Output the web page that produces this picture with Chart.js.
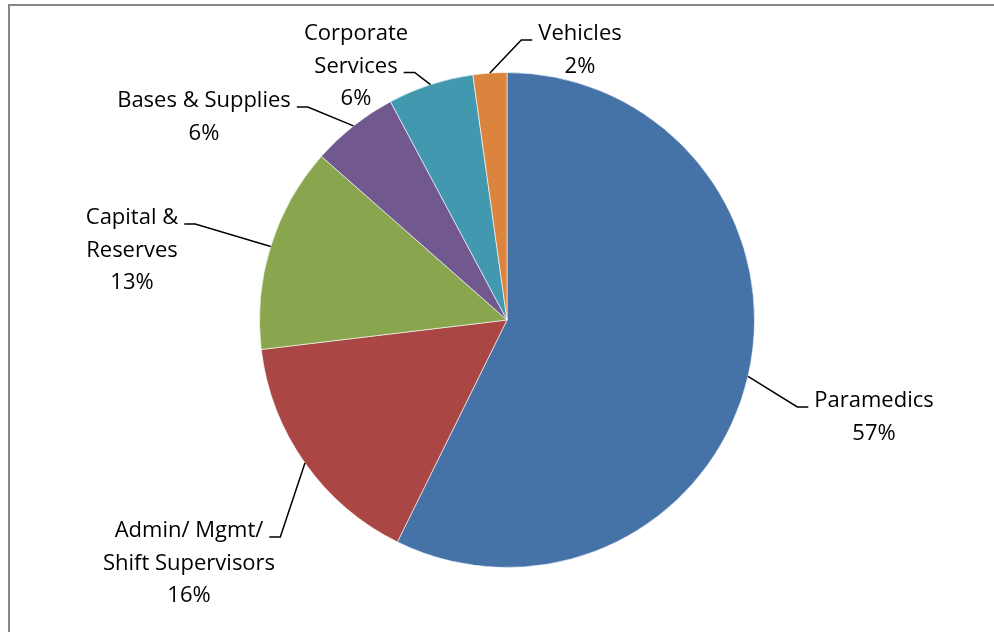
<!DOCTYPE html>
<html>
<head>
<meta charset="utf-8">
<script src="https://cdn.jsdelivr.net/npm/chart.js@4.4.1/dist/chart.umd.min.js"></script>
<style>
    html, body { margin: 0; padding: 0; background: #fff; overflow: hidden; }
    #marco {
        position: absolute; left: 8px; top: 4px;
        width: 1100px; height: 800px;
        border: 2px solid #878787;
    }
    #contenedor { position: absolute; left: 0; top: 0; width: 994px; height: 632px; }
</style>
</head>
<body>
<div id="marco"></div>
<div id="contenedor"><canvas id="chartPrincipal" width="994" height="632"></canvas></div>
<script>
// Reparto del presupuesto por partida
const categorias = [
    ['Paramedics'],
    ['Admin/ Mgmt/', 'Shift Supervisors'],
    ['Capital &', 'Reserves'],
    ['Bases & Supplies'],
    ['Corporate', 'Services'],
    ['Vehicles']
];
const valores = [57.3, 15.8, 13.4, 5.7, 5.6, 2.2];
const colores = ['#4572A7', '#AA4643', '#89A54E', '#71588F', '#4198AF', '#DB843D'];

// Posición de cada etiqueta respecto al centro de la tarta:
// dx = centro del texto, dy = línea base de la primera fila, fila = fila a la que llega la guía
const posEtiquetas = [
    { dx: 367, dy: 87, fila: 0 },
    { dx: -318, dy: 217, fila: 0 },
    { dx: -375, dy: -96, fila: 0 },
    { dx: -303, dy: -213, fila: 0 },
    { dx: -151, dy: -280, fila: 1 },
    { dx: 73, dy: -280, fila: 0 }
];

const FUENTE = '22px "Open Sans"';
const ALTO_LINEA = 32.5;

// Plugin para pintar etiquetas fuera de la tarta con líneas guía
const etiquetasFuera = {
    id: 'etiquetasFuera',
    afterDatasetsDraw(chart) {
        const ctx = chart.ctx;
        const meta = chart.getDatasetMeta(0);
        const datos = chart.data.datasets[0].data;
        const total = datos.reduce((a, b) => a + b, 0);

        ctx.save();
        ctx.font = FUENTE;
        ctx.fillStyle = '#000';
        ctx.strokeStyle = '#000';
        ctx.lineWidth = 1.5;
        ctx.textAlign = 'center';
        ctx.textBaseline = 'alphabetic';

        meta.data.forEach((arco, i) => {
            const { x, y, startAngle, endAngle, outerRadius } = arco.getProps(['x', 'y', 'startAngle', 'endAngle', 'outerRadius'], true);
            const medio = (startAngle + endAngle) / 2;
            const bx = x + Math.cos(medio) * outerRadius;
            const by = y + Math.sin(medio) * outerRadius;

            const pos = posEtiquetas[i];
            const lineas = chart.data.labels[i].concat([Math.round(datos[i] / total * 100) + '%']);
            const tx = x + pos.dx;
            const ty = y + pos.dy;

            // Extremo de la guía junto al texto
            const fila = lineas[pos.fila];
            const ancho = ctx.measureText(fila).width;
            const aDerecha = tx > bx;
            const finY = ty + pos.fila * ALTO_LINEA;
            const finX = aDerecha ? tx - ancho / 2 - 6 : tx + ancho / 2 + 6;
            const codoX = aDerecha ? finX - 11 : finX + 11;

            ctx.beginPath();
            ctx.moveTo(bx, by);
            ctx.lineTo(codoX, finY);
            ctx.lineTo(finX, finY);
            ctx.stroke();

            lineas.forEach((txt, k) => {
                ctx.fillText(txt, tx, ty + k * ALTO_LINEA);
            });
        });
        ctx.restore();
    }
};

let chartInstance = null;

function dibujarGrafica() {
    const ctx = document.getElementById('chartPrincipal').getContext('2d');

    chartInstance = new Chart(ctx, {
        type: 'pie',
        data: {
            labels: categorias,
            datasets: [{
                data: valores,
                backgroundColor: colores,
                borderColor: 'rgba(255,255,255,0.6)',
                borderWidth: 1
            }]
        },
        options: {
            responsive: false,
            animation: false,
            layout: {
                padding: { top: 72, bottom: 64, left: 100, right: 80 }
            },
            plugins: {
                legend: { display: false },
                tooltip: { enabled: false }
            }
        },
        plugins: [etiquetasFuera]
    });
}

document.fonts.load(FUENTE).then(dibujarGrafica, dibujarGrafica);
</script>
</body>
</html>
